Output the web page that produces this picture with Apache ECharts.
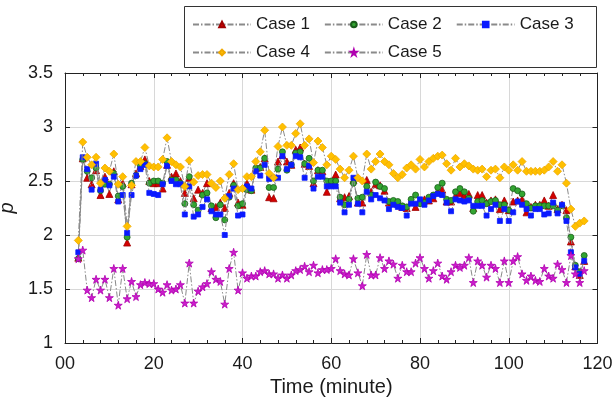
<!DOCTYPE html>
<html>
<head>
<meta charset="utf-8">
<script src="https://cdn.jsdelivr.net/npm/echarts@6/dist/echarts.min.js"></script>
<style>
  html, body { margin: 0; padding: 0; background: #fff; }
  #chart { width: 613px; height: 399px; }
</style>
</head>
<body>
<div id="chart"></div>
<script>
const minutes = [
  3, 4, 5, 6, 7, 8, 9, 10, 11, 12,
  13, 14, 15, 16, 17, 18, 19, 20, 21, 22,
  23, 24, 25, 26, 27, 28, 29, 30, 31, 32,
  33, 34, 35, 36, 37, 38, 39, 40, 41, 42,
  43, 44, 45, 46, 47, 48, 49, 50, 51, 52,
  53, 54, 55, 56, 57, 58, 59, 60, 61, 62,
  63, 64, 65, 66, 67, 68, 69, 70, 71, 72,
  73, 74, 75, 76, 77, 78, 79, 80, 81, 82,
  83, 84, 85, 86, 87, 88, 89, 90, 91, 92,
  93, 94, 95, 96, 97, 98, 99, 100, 101, 102,
  103, 104, 105, 106, 107, 108, 109, 110, 111, 112,
  113, 114, 115, 116, 117
]

const case1 = [
  1.79, 2.71, 2.53, 2.47, 2.60, 2.37, 2.54, 2.38, 2.59, 2.33,
  2.48, 1.93, 2.47, 2.57, 2.64, 2.70, 2.50, 2.48, 2.48, 2.43,
  2.65, 2.54, 2.57, 2.50, 2.39, 2.53, 2.34, 2.42, 2.39, 2.48,
  2.25, 2.26, 2.30, 2.25, 2.39, 2.48, 2.30, 2.28, 2.48, 2.42,
  2.62, 2.63, 2.71, 2.35, 2.34, 2.68, 2.74, 2.68, 2.65, 2.79,
  2.81, 2.66, 2.64, 2.48, 2.60, 2.59, 2.40, 2.48, 2.56, 2.34,
  2.35, 2.36, 2.51, 2.30, 2.30, 2.51, 2.40, 2.47, 2.46, 2.41,
  2.30, 2.30, 2.29, 2.26, 2.25, 2.31, 2.26, 2.31, 2.33, 2.32,
  2.34, 2.40, 2.42, 2.31, 2.31, 2.36, 2.39, 2.37, 2.38, 2.25,
  2.37, 2.37, 2.30, 2.32, 2.33, 2.24, 2.32, 2.23, 2.31, 2.32,
  2.33, 2.21, 2.26, 2.28, 2.28, 2.32, 2.27, 2.37, 2.24, 2.28,
  2.23, 1.94, 1.71, 1.63, 1.76
]

const case2 = [
  1.78, 2.70, 2.59, 2.53, 2.62, 2.41, 2.47, 2.47, 2.57, 2.36,
  2.45, 1.98, 2.48, 2.55, 2.64, 2.66, 2.48, 2.50, 2.50, 2.48,
  2.68, 2.51, 2.51, 2.48, 2.29, 2.54, 2.28, 2.23, 2.37, 2.39,
  2.27, 2.16, 2.28, 2.14, 2.35, 2.46, 2.27, 2.29, 2.42, 2.41,
  2.62, 2.62, 2.71, 2.44, 2.44, 2.61, 2.77, 2.60, 2.65, 2.76,
  2.77, 2.66, 2.71, 2.50, 2.60, 2.60, 2.50, 2.50, 2.50, 2.35,
  2.28, 2.33, 2.48, 2.34, 2.35, 2.45, 2.37, 2.49, 2.45, 2.43,
  2.31, 2.32, 2.31, 2.27, 2.26, 2.33, 2.37, 2.29, 2.30, 2.35,
  2.37, 2.44, 2.48, 2.33, 2.32, 2.40, 2.43, 2.40, 2.34, 2.22,
  2.31, 2.32, 2.29, 2.31, 2.32, 2.28, 2.28, 2.23, 2.43, 2.41,
  2.38, 2.29, 2.25, 2.27, 2.27, 2.27, 2.27, 2.27, 2.23, 2.27,
  2.16, 1.98, 1.72, 1.66, 1.81
]

const case3 = [
  1.84, 2.72, 2.61, 2.42, 2.66, 2.42, 2.51, 2.46, 2.54, 2.31,
  2.37, 2.02, 2.37, 2.55, 2.61, 2.65, 2.39, 2.38, 2.37, 2.47,
  2.64, 2.50, 2.47, 2.47, 2.19, 2.45, 2.17, 2.19, 2.26, 2.33,
  2.22, 2.19, 2.19, 2.00, 2.36, 2.43, 2.18, 2.19, 2.45, 2.43,
  2.59, 2.55, 2.65, 2.52, 2.53, 2.53, 2.73, 2.61, 2.65, 2.73,
  2.72, 2.53, 2.64, 2.43, 2.54, 2.54, 2.45, 2.45, 2.45, 2.30,
  2.21, 2.28, 2.53, 2.29, 2.21, 2.40, 2.33, 2.37, 2.34, 2.32,
  2.24, 2.28, 2.26, 2.25, 2.18, 2.29, 2.29, 2.33, 2.28, 2.32,
  2.36, 2.38, 2.37, 2.30, 2.22, 2.33, 2.32, 2.31, 2.32, 2.27,
  2.27, 2.27, 2.18, 2.24, 2.28, 2.13, 2.24, 2.13, 2.21, 2.31,
  2.28, 2.24, 2.18, 2.24, 2.24, 2.19, 2.20, 2.30, 2.20, 2.28,
  2.13, 1.84, 1.70, 1.64, 1.76
]

const case4 = [
  1.95, 2.86, 2.72, 2.65, 2.72, 2.48, 2.62, 2.59, 2.75, 2.47,
  2.54, 2.08, 2.46, 2.68, 2.68, 2.81, 2.64, 2.63, 2.63, 2.70,
  2.90, 2.68, 2.65, 2.63, 2.45, 2.69, 2.49, 2.55, 2.56, 2.56,
  2.48, 2.44, 2.50, 2.34, 2.56, 2.66, 2.42, 2.43, 2.54, 2.54,
  2.68, 2.77, 2.97, 2.57, 2.53, 2.82, 3.00, 2.83, 2.83, 2.94,
  3.03, 2.83, 2.89, 2.67, 2.87, 2.81, 2.65, 2.73, 2.70, 2.61,
  2.53, 2.60, 2.73, 2.53, 2.50, 2.75, 2.61, 2.68, 2.75, 2.68,
  2.65, 2.57, 2.53, 2.56, 2.62, 2.65, 2.61, 2.70, 2.63, 2.68,
  2.71, 2.73, 2.74, 2.66, 2.60, 2.71, 2.63, 2.66, 2.64, 2.61,
  2.60, 2.61, 2.54, 2.60, 2.61, 2.53, 2.63, 2.60, 2.65, 2.60,
  2.68, 2.59, 2.59, 2.59, 2.59, 2.60, 2.63, 2.68, 2.59, 2.65,
  2.48, 2.24, 2.08, 2.11, 2.13
]

const case5 = [
  1.78, 1.86, 1.49, 1.42, 1.59, 1.49, 1.59, 1.42, 1.69, 1.35,
  1.69, 1.41, 1.57, 1.43, 1.54, 1.56, 1.55, 1.55, 1.50, 1.47,
  1.54, 1.49, 1.50, 1.54, 1.37, 1.74, 1.37, 1.48, 1.52, 1.55,
  1.66, 1.59, 1.57, 1.36, 1.69, 1.84, 1.49, 1.65, 1.60, 1.62,
  1.62, 1.66, 1.67, 1.64, 1.64, 1.60, 1.63, 1.60, 1.63, 1.67,
  1.68, 1.71, 1.66, 1.72, 1.65, 1.68, 1.68, 1.69, 1.78, 1.67,
  1.64, 1.63, 1.78, 1.65, 1.53, 1.82, 1.63, 1.63, 1.79, 1.69,
  1.76, 1.73, 1.60, 1.72, 1.66, 1.66, 1.74, 1.79, 1.69, 1.60,
  1.67, 1.74, 1.62, 1.59, 1.66, 1.72, 1.70, 1.72, 1.79, 1.56,
  1.76, 1.72, 1.61, 1.72, 1.69, 1.56, 1.76, 1.56, 1.76, 1.80,
  1.64, 1.58, 1.62, 1.58, 1.57, 1.69, 1.62, 1.60, 1.73, 1.68,
  1.56, 1.81, 1.64, 1.56, 1.67
]

const caseNames = ['Case 1', 'Case 2', 'Case 3', 'Case 4', 'Case 5']

const STAR = 'path://M50,0 L61,35 L98,35 L68,57 L79,91 L50,70 L21,91 L32,57 L2,35 L39,35 Z'
const FONT = '"Liberation Sans", Arial, sans-serif'
const TXT = '#1a1a1a'

// marker look per case
const marks = [
  { symbol: 'triangle', size: 7, fill: '#d40000', border: '#a00000' },
  { symbol: 'circle', size: 6, fill: '#33a532', border: '#1b5e1b' },
  { symbol: 'rect', size: 5, fill: '#0a1aff', border: '#0a1aff' },
  { symbol: 'diamond', size: 8, fill: '#ffc000', border: '#f0a800' },
  { symbol: STAR, size: 8, fill: '#cc1ccc', border: '#b000b0' },
]

const values = [case1, case2, case3, case4, case5]

const series = values.map((vals, i) => ({
  name: caseNames[i],
  type: 'line',
  data: minutes.map((m, k) => [m, vals[k]]),
  symbol: marks[i].symbol,
  symbolSize: marks[i].size,
  showAllSymbol: true,
  itemStyle: { color: marks[i].fill, borderColor: marks[i].border, borderWidth: 0.8 },
  lineStyle: { color: '#8a8a8a', width: 1, type: [6, 2, 1.5, 2] },
  emphasis: { disabled: true },
  z: 2 + i,
}))

const legendBase = {
  orient: 'horizontal',
  padding: 0,
  itemWidth: 58,
  itemHeight: 7,
  itemGap: 14,
  textStyle: { fontFamily: FONT, fontSize: 17, color: TXT },
  selectedMode: false,
}

const chart = echarts.init(document.getElementById('chart'), null, { renderer: 'canvas' })

chart.setOption({
  animation: false,
  backgroundColor: '#fff',
  graphic: [
    {
      type: 'rect',
      shape: { x: 184.5, y: 6.5, width: 412, height: 61 },
      style: { fill: '#fff', stroke: '#333', lineWidth: 1 },
      z: 0,
    },
  ],
  legend: [
    Object.assign({}, legendBase, { left: 192, top: 16, data: caseNames.slice(0, 3) }),
    Object.assign({}, legendBase, { left: 192, top: 44, data: caseNames.slice(3) }),
  ],
  grid: { left: 65, right: 15.5, top: 73, bottom: 56, containLabel: false, outerBoundsMode: 'none' },
  xAxis: [
    {
      type: 'value',
      min: 0,
      max: 120,
      interval: 20,
      name: 'Time (minute)',
      nameLocation: 'middle',
      nameGap: 32,
      nameTextStyle: { fontFamily: FONT, fontSize: 20, color: TXT },
      axisLine: { onZero: false, lineStyle: { color: '#222', width: 1 } },
      axisTick: { inside: true, length: 5, lineStyle: { color: '#222' } },
      minorTick: { show: true, splitNumber: 5, length: 3, lineStyle: { color: '#222' } },
      axisLabel: {
        margin: 12,
        fontFamily: FONT,
        fontSize: 18,
        color: TXT,
        formatter: (v) => (v === 0 ? '00' : String(v)),
      },
      splitLine: { show: true, lineStyle: { color: '#d8d8d8', width: 1 } },
    },
    {
      type: 'value',
      position: 'top',
      min: 0,
      max: 120,
      interval: 20,
      axisLine: { show: true, onZero: false, lineStyle: { color: '#222', width: 1 } },
      axisTick: { inside: true, length: 5, lineStyle: { color: '#222' } },
      minorTick: { show: true, splitNumber: 5, length: 3, lineStyle: { color: '#222' } },
      axisLabel: { show: false },
      splitLine: { show: false },
    },
  ],
  yAxis: [
    {
      type: 'value',
      min: 1,
      max: 3.5,
      interval: 0.5,
      name: 'p',
      nameLocation: 'middle',
      nameGap: 35,
      nameRotate: 90,
      nameTextStyle: { fontFamily: FONT, fontSize: 20, fontStyle: 'italic', color: TXT },
      axisLine: { show: true, onZero: false, lineStyle: { color: '#222', width: 1 } },
      axisTick: { show: true, inside: true, length: 5, lineStyle: { color: '#222' } },
      axisLabel: { margin: 12, fontFamily: FONT, fontSize: 18, color: TXT },
      splitLine: { show: true, lineStyle: { color: '#d8d8d8', width: 1 } },
    },
    {
      type: 'value',
      position: 'right',
      min: 1,
      max: 3.5,
      interval: 0.5,
      axisLine: { show: true, onZero: false, lineStyle: { color: '#222', width: 1 } },
      axisTick: { show: true, inside: true, length: 5, lineStyle: { color: '#222' } },
      axisLabel: { show: false },
      splitLine: { show: false },
    },
  ],
  series: series,
})
</script>
</body>
</html>
